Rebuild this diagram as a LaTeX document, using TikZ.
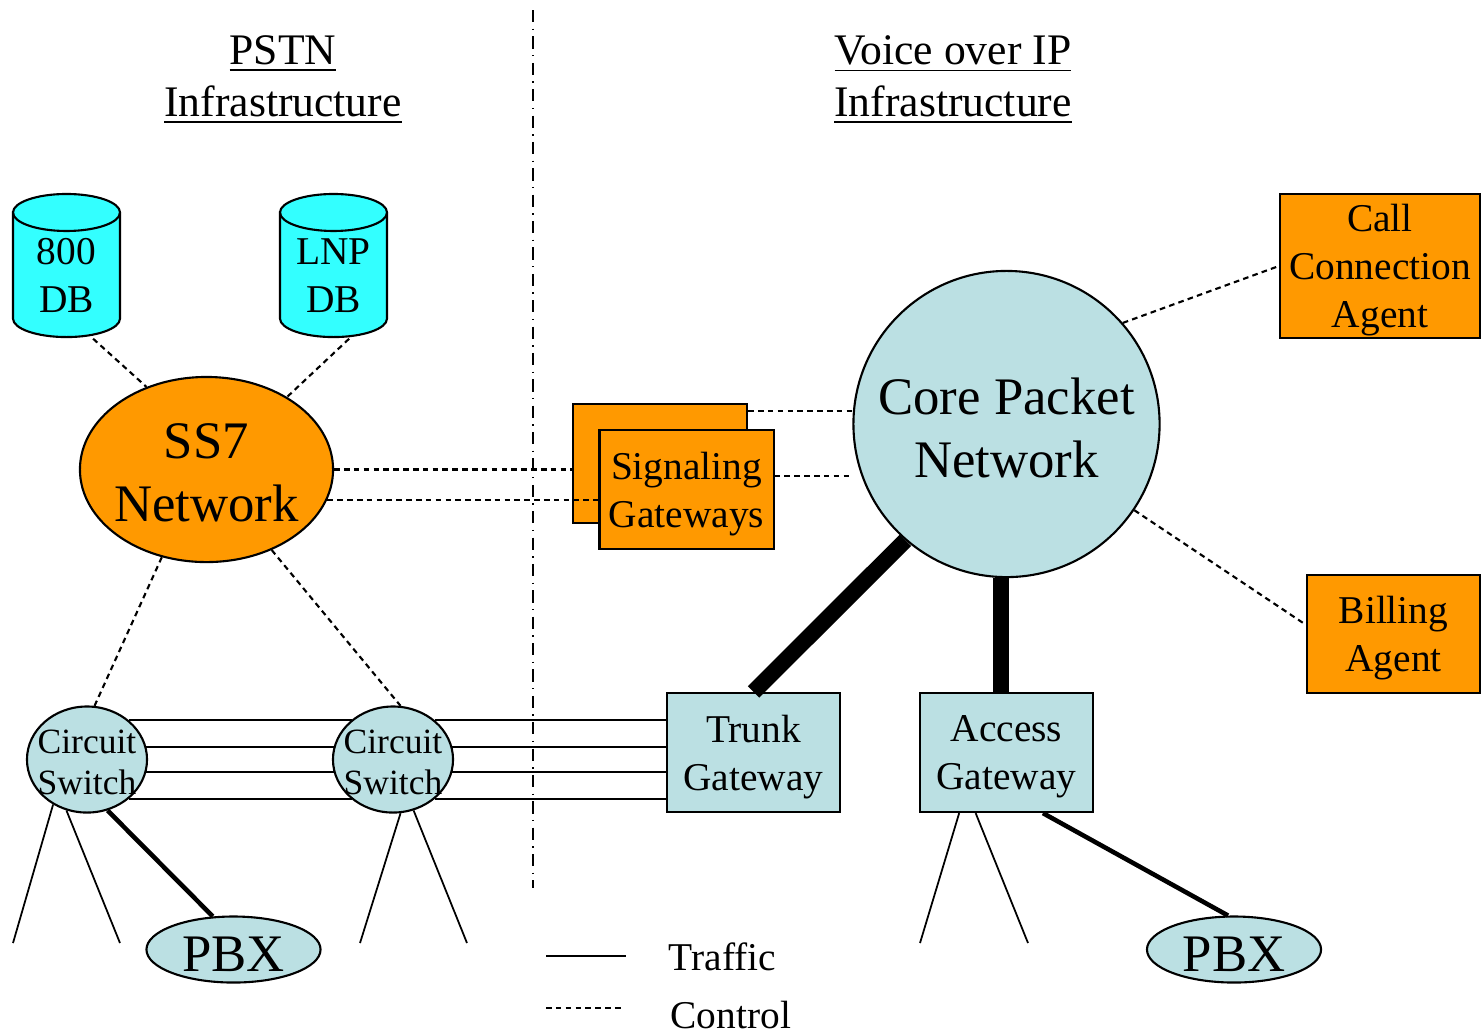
\documentclass[tikz,border=0pt]{standalone}
\usepackage{fontspec}
\setmainfont{Liberation Serif}
\usepackage{tikz}
\usetikzlibrary{shapes.geometric,positioning}
\definecolor{dbcyan}{HTML}{33FFFF}
\definecolor{sigorange}{HTML}{FF9900}
\definecolor{netblue}{HTML}{BBE0E3}
\newcommand{\netfont}{\fontsize{15}{18}\selectfont}
\newcommand{\boxfont}{\fontsize{11.2}{13.6}\selectfont}
\newcommand{\swfont}{\fontsize{10.1}{11.7}\selectfont}
\newcommand{\headfont}{\fontsize{12.4}{14.8}\selectfont}

\begin{document}
\begin{tikzpicture}[
  x=0.01cm,y=-0.01cm,
  dbnode/.style={rectangle,fill=white,inner sep=0pt,align=center,font=\boxfont,
                 minimum width=1.09cm,minimum height=1.45cm,text height=26.9pt,text depth=0pt,
                 path picture={
                   \draw[line width=0.6pt,fill=dbcyan]
                     ([shift={(0.01cm,-0.195cm)}]path picture bounding box.north west)
                     -- ([shift={(0.01cm,0.195cm)}]path picture bounding box.south west)
                     arc[start angle=180,end angle=360,x radius=0.535cm,y radius=0.185cm]
                     -- ([shift={(-0.01cm,-0.195cm)}]path picture bounding box.north east)
                     arc[start angle=0,end angle=180,x radius=0.535cm,y radius=0.185cm]
                     -- cycle;
                   \draw[line width=0.6pt]
                     ([shift={(0.01cm,-0.195cm)}]path picture bounding box.north west)
                     arc[start angle=180,end angle=360,x radius=0.535cm,y radius=0.185cm];
                 }},
  cloud/.style={ellipse,draw,line width=0.6pt,inner sep=0pt,align=center,text depth=0pt},
  ss7net/.style={cloud,fill=sigorange,font=\netfont,inner xsep=-2pt,text height=29.5pt,
                 minimum width=2.53cm,minimum height=1.85cm},
  corenet/.style={circle,draw,line width=0.6pt,fill=netblue,inner sep=0pt,align=center,
                  font=\netfont,text height=30.6pt,text depth=0pt,minimum size=3.06cm},
  switchnode/.style={cloud,fill=netblue,font=\swfont,inner xsep=-3pt,text height=20.1pt,
                     minimum width=1.2cm,minimum height=1.06cm},
  pbxnode/.style={cloud,fill=netblue,font=\netfont,inner ysep=-1pt,text height=12.6pt,
                  minimum width=1.74cm,minimum height=0.66cm},
  obox/.style={rectangle,draw,line width=0.6pt,fill=sigorange,inner sep=0pt,
               align=center,font=\boxfont,text depth=0pt},
  gwbox/.style={rectangle,draw,line width=0.6pt,fill=netblue,inner sep=0pt,
                align=center,font=\boxfont,text depth=0pt,
                minimum width=1.73cm,minimum height=1.19cm},
  head/.style={inner sep=0pt,align=center,font=\headfont},
  ctl/.style={line width=0.6pt,dash pattern=on 1.6pt off 1.2pt},
  trf/.style={line width=0.5pt},
  pipe/.style={line width=4.6pt},
  tap/.style={line width=1.3pt},
  divider/.style={line width=0.5pt,dash pattern=on 3.5pt off 1.8pt on 0.4pt off 1.8pt}
]
\useasboundingbox (0,0) rectangle (1483,1032);

% headings and divider
\node[head] (pstn) at (283,80) {\underline{PSTN}\\\underline{Infrastructure}};
\node[head] (voip) at (953,80) {\underline{Voice over IP}\\\underline{Infrastructure}};
\coordinate (divtop) at (533,10);
\coordinate (divbot) at (533,888);
\draw[divider] (divtop) -- (divbot);

% PSTN side
\node[dbnode] (db800) at (66.5,265.5) {800\\DB};
\node[dbnode] (dblnp) at (333.5,265.5) {LNP\\DB};
\node[ss7net] (ss7) at (206.5,469.5) {SS7\\Network};
\node[switchnode] (cs1) at (87,759.5) {Circuit\\Switch};
\node[switchnode] (cs2) at (393,759.5) {Circuit\\Switch};
\node[pbxnode] (pbx1) at (233.5,949.5) {PBX};

% VoIP side
\node[obox,minimum width=1.74cm,minimum height=1.19cm] (sgback) at (660,463.5) {};
\node[obox,minimum width=1.74cm,minimum height=1.19cm] (sgfront) at (686.5,489.5) {Signaling\\Gateways};
\node[corenet] (core) at (1006.5,424) {Core Packet\\Network};
\node[obox,minimum width=2cm,minimum height=1.44cm] (cca) at (1380,266) {Call\\Connection\\Agent};
\node[obox,minimum width=1.73cm,minimum height=1.18cm] (bill) at (1393.5,634) {Billing\\Agent};
\node[gwbox] (trunk) at (753.5,752.5) {Trunk\\Gateway};
\node[gwbox] (access) at (1006.5,752.5) {Access\\Gateway};
\node[pbxnode] (pbx2) at (1234,949.5) {PBX};

% control links
\draw[ctl] (db800.-70) -- (ss7.126);
\draw[ctl] (dblnp.-78) -- (ss7.42);
\draw[ctl] (ss7.east) -- (ss7.east -| sgback.west);
\draw[ctl] (ss7.-14.5) -- (ss7.-14.5 -| sgfront.west);
\draw[ctl] (sgback.31.8) -- (sgback.31.8 -| core.west);
\draw[ctl] (sgfront.9.5) -- (sgfront.9.5 -| core.west);
\draw[ctl] (core.41) -- (cca.west);
\draw[ctl] (core.-34) -- (bill.174);
\draw[ctl] (ss7.-117) -- (cs1.82);
\draw[ctl] (ss7.-51) -- (cs2.82);

% trunks
\foreach \a/\b in {43.85/136.15,12.6/167.4,-12.6/-167.4,-43.85/-136.15}{
  \draw[trf] (cs1.\a) -- (cs1.\a -| cs2.\b);
  \draw[trf] (cs2.\a) -- (cs2.\a -| trunk.west);
}
\draw[pipe] (core.-131.4) -- (trunk.north);
\draw[pipe] (core.-92) -- (core.-92 |- access.north);

% access lines
\coordinate (f1) at (13,943);
\coordinate (f2) at (120,943);
\coordinate (f3) at (360,943);
\coordinate (f4) at (467,943);
\coordinate (f5) at (920,943);
\coordinate (f6) at (1028,943);
\draw[trf] (cs1.-127) -- (f1);
\draw[trf] (cs1.-112) -- (f2);
\draw[tap] (cs1.-68) -- (pbx1.122.6);
\draw[trf] (cs2.-82.4) -- (f3);
\draw[trf] (cs2.-68) -- (f4);
\draw[trf] (access.-128) -- (f5);
\draw[trf] (access.-117.9) -- (f6);
\draw[tap] (access.-59.9) -- (pbx2.100.3);

% legend
\coordinate (trfa) at (546,956);
\coordinate (trfb) at (626,956);
\coordinate (ctla) at (546,1008);
\coordinate (ctlb) at (622,1008);
\draw[trf] (trfa) -- (trfb);
\draw[ctl] (ctla) -- (ctlb);
\node[anchor=west,inner sep=0pt,font=\boxfont] (trflabel) at (668,957) {Traffic};
\node[anchor=west,inner sep=0pt,font=\boxfont] (ctllabel) at (670,1015) {Control};
\end{tikzpicture}
\end{document}
